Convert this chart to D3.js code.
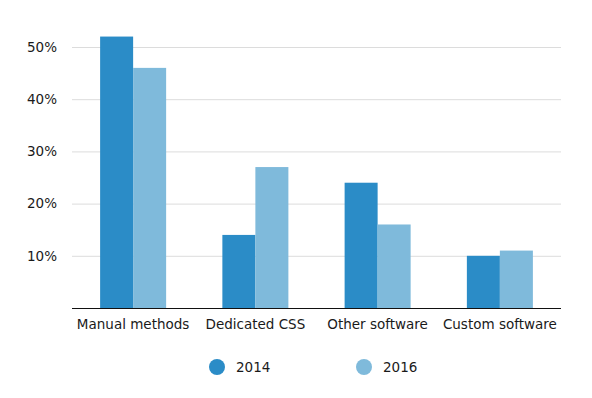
<!DOCTYPE html>
<html>
<head>
<meta charset="utf-8">
<script src="https://cdn.jsdelivr.net/npm/d3@7"></script>
<style>
  body { margin: 0; background: #fff; }
  text { font-family: "DejaVu Sans", Verdana, sans-serif; fill: #1a1a1a; }
</style>
</head>
<body>
<svg width="592" height="398"></svg>
<script>
const categories = ["Manual methods", "Dedicated CSS", "Other software", "Custom software"]
const seriesNames = ["2014", "2016"]
const values2014 = [52, 14, 24, 10]
const values2016 = [46, 27, 16, 11]
const yTicks = [10, 20, 30, 40, 50]
const colors = ["#2b8cc7", "#7fbadb"]

const svg = d3.select("svg")
const margin = { left: 72, right: 31, top: 20, bottom: 90 }
const width = +svg.attr("width")
const height = +svg.attr("height")

const x = d3.scaleBand()
    .domain(categories)
    .range([margin.left, width - margin.right])
    .paddingInner(0.46)
    .paddingOuter(0.23)

const xs = d3.scaleBand()
    .domain(seriesNames)
    .range([0, x.bandwidth()])

const y = d3.scaleLinear()
    .domain([0, 50])
    .range([308, 47])

// gridlines
svg.append("g")
    .selectAll("line")
    .data(yTicks)
    .enter()
    .append("line")
    .attr("x1", margin.left)
    .attr("x2", width - margin.right)
    .attr("y1", d => y(d) + 0.5)
    .attr("y2", d => y(d) + 0.5)
    .attr("stroke", "#dcdcdc")

svg.append("g")
    .selectAll("text")
    .data(yTicks)
    .enter()
    .append("text")
    .attr("x", 57)
    .attr("y", d => y(d))
    .attr("dy", "0.35em")
    .attr("text-anchor", "end")
    .style("font-size", "13.5px")
    .text(d => d + "%")

const series = [values2014, values2016]
series.forEach((vals, i) => {
    svg.append("g")
        .selectAll("rect")
        .data(vals)
        .enter()
        .append("rect")
        .attr("x", (d, j) => x(categories[j]) + xs(seriesNames[i]))
        .attr("width", xs.bandwidth())
        .attr("y", d => y(d))
        .attr("height", d => y(0) - y(d))
        .attr("fill", colors[i])
})

// baseline
svg.append("line")
    .attr("x1", margin.left)
    .attr("x2", width - margin.right)
    .attr("y1", y(0) + 0.5)
    .attr("y2", y(0) + 0.5)
    .attr("stroke", "#111")

svg.append("g")
    .selectAll("text")
    .data(categories)
    .enter()
    .append("text")
    .attr("x", d => x(d) + x.bandwidth() / 2)
    .attr("y", 329)
    .attr("text-anchor", "middle")
    .style("font-size", "13.5px")
    .text(d => d)

// legend
const legend = svg.append("g")
    .selectAll("g")
    .data(seriesNames)
    .enter()
    .append("g")
    .attr("transform", (d, i) => "translate(" + (217 + i * 147) + ",367)")

legend.append("circle")
    .attr("r", 8)
    .attr("fill", (d, i) => colors[i])

legend.append("text")
    .attr("x", 19)
    .attr("dy", "0.35em")
    .style("font-size", "13.5px")
    .text(d => d)
</script>
</body>
</html>
